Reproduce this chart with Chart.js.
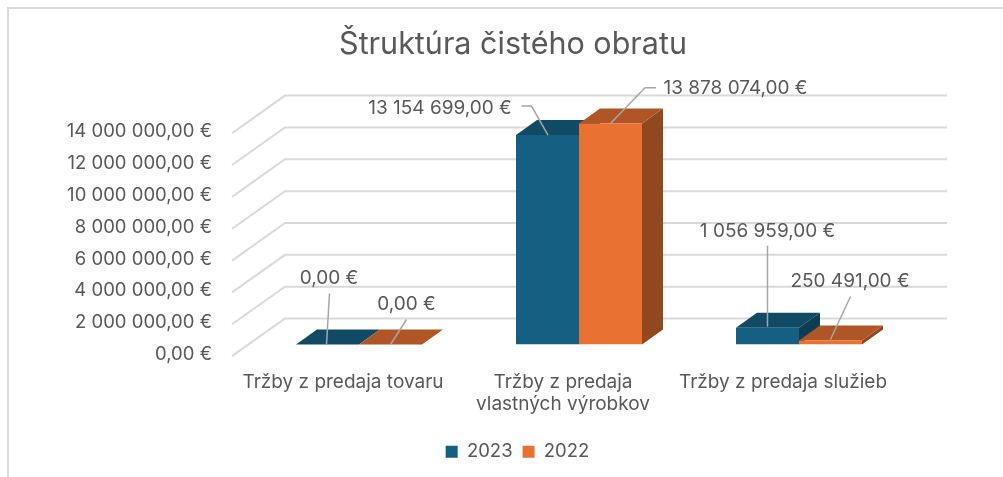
<!DOCTYPE html>
<html>
<head>
<meta charset="utf-8">
<title>Štruktúra čistého obratu</title>
<script src="https://cdn.jsdelivr.net/npm/chart.js@4"></script>
<style>
  html, body { margin: 0; padding: 0; background: #fff; overflow: hidden; }
  #frame { position: absolute; left: 7px; top: 7px; width: 996px; height: 470px;
           border-top: 2px solid #d9d9d9; border-left: 2px solid #d9d9d9; box-sizing: border-box; }
  #chart { position: absolute; left: 0; top: 0; }
</style>
</head>
<body>
<div id="frame"></div>
<canvas id="chart" width="1003" height="477"></canvas>
<script>
const titleText = 'Štruktúra čistého obratu';
const categories = ['Tržby z predaja tovaru', ['Tržby z predaja', 'vlastných výrobkov'], 'Tržby z predaja služieb'];
const seriesNames = ['2023', '2022'];
const values2023 = [0, 13154699, 1056959];
const values2022 = [0, 13878074, 250491];
const axisMax = 14000000;
const axisStep = 2000000;

const fontName = 'Inter, "Open Sans", sans-serif';
const textColor = '#595959';
const frontColors = ['#156082', '#E97132'];
const topColors = ['#104A64', '#B05626'];
const sideColors = ['#0B3E54', '#91481E'];

// 3d look: how far the bar faces and the back wall are pushed
const barDepth = { x: 21, y: -15 };
const wallFront = { x: 232, dy: 11.6 };
const wallBack = { x: 285, right: 947, dy: -26 };

// label spots, relative to the top middle of each bar front [series][category]
const labelSpots = [
  [
    { tx: 1.5, ty: -66.5, line: [[2, -51], [-1, 0]] },
    { tx: -107.5, ty: -26.5, line: [[-26, -29], [-16, -29], [0.5, 0]] },
    { tx: 0, ty: -96.7, line: [[0, -82], [0, -1]] }
  ],
  [
    { tx: 16, ty: -40.5, line: [[16, -25], [0, 0]] },
    { tx: 125, ty: -35, line: [[45.5, -35.7], [34.5, -35.7], [0, 0]] },
    { tx: 19.5, ty: -58.8, line: [[20, -44], [0, -1]] }
  ]
];

function euro(v) {
  const parts = v.toFixed(2).split('.');
  return parts[0].replace(/\B(?=(\d{3})+(?!\d))/g, ' ') + ',' + parts[1] + ' €';
}

function poly(ctx, pts, color) {
  ctx.fillStyle = color;
  ctx.beginPath();
  pts.forEach((p, i) => i ? ctx.lineTo(p[0], p[1]) : ctx.moveTo(p[0], p[1]));
  ctx.closePath();
  ctx.fill();
}

const bars3d = {
  id: 'bars3d',
  afterLayout(chart) {
    // title sits a bit left of the legend in the original
    chart.titleBlock.left -= 4.5;
    chart.titleBlock.right -= 4.5;
  },
  beforeDatasetsDraw(chart) {
    const ctx = chart.ctx;
    const y = chart.scales.y;
    ctx.save();
    ctx.strokeStyle = '#d9d9d9';
    ctx.lineWidth = 2;
    y.ticks.forEach(t => {
      const py = y.getPixelForValue(t.value);
      ctx.beginPath();
      ctx.moveTo(wallFront.x, py + wallFront.dy);
      ctx.lineTo(wallBack.x, py + wallBack.dy);
      ctx.lineTo(wallBack.right, py + wallBack.dy);
      ctx.stroke();
    });
    chart.data.datasets.forEach((ds, i) => {
      chart.getDatasetMeta(i).data.forEach(bar => {
        const l = bar.x - bar.width / 2, r = bar.x + bar.width / 2;
        const dx = barDepth.x, dy = barDepth.y;
        poly(ctx, [[r, bar.y], [r + dx, bar.y + dy], [r + dx, bar.base + dy], [r, bar.base]], sideColors[i]);
        poly(ctx, [[l, bar.y], [r, bar.y], [r + dx, bar.y + dy], [l + dx, bar.y + dy]], topColors[i]);
      });
    });
    ctx.restore();
  },
  afterDatasetsDraw(chart) {
    const ctx = chart.ctx;
    ctx.save();
    chart.data.datasets.forEach((ds, i) => {
      chart.getDatasetMeta(i).data.forEach((bar, j) => {
        const spot = labelSpots[i][j];
        ctx.strokeStyle = '#a6a6a6';
        ctx.lineWidth = 1.5;
        ctx.beginPath();
        spot.line.forEach((p, k) => {
          if (k) ctx.lineTo(bar.x + p[0], bar.y + p[1]);
          else ctx.moveTo(bar.x + p[0], bar.y + p[1]);
        });
        ctx.stroke();
        ctx.fillStyle = textColor;
        ctx.font = '19px ' + fontName;
        ctx.textAlign = 'center';
        ctx.textBaseline = 'middle';
        ctx.fillText(euro(ds.data[j]), bar.x + spot.tx, bar.y + spot.ty);
      });
    });
    ctx.restore();
  }
};

new Chart(document.getElementById('chart').getContext('2d'), {
  type: 'bar',
  data: {
    labels: categories,
    datasets: [
      { label: seriesNames[0], data: values2023, backgroundColor: frontColors[0] },
      { label: seriesNames[1], data: values2022, backgroundColor: frontColors[1] }
    ]
  },
  plugins: [bars3d],
  options: {
    responsive: false,
    animation: false,
    layout: { padding: { left: 32, right: 0, top: 0, bottom: 6 } },
    datasets: { bar: { categoryPercentage: 0.5727, barPercentage: 1 } },
    scales: {
      x: {
        grid: { display: false },
        border: { display: false },
        ticks: { color: textColor, font: { family: fontName, size: 19 }, padding: 18, labelOffset: -16, maxRotation: 0, autoSkip: false },
        afterFit(scale) { scale.height = 88; }
      },
      y: {
        min: 0,
        max: axisMax,
        grid: { display: false, drawTicks: false },
        border: { display: false },
        ticks: { stepSize: axisStep, color: textColor, font: { family: fontName, size: 18.5 }, padding: 37, labelOffset: 10, callback: v => euro(v) },
        afterFit(scale) { scale.width = 217; }
      },
      // empty axis, only keeps the room on the right of the bars
      spacer: {
        axis: 'y',
        position: 'right',
        grid: { display: false },
        border: { display: false },
        ticks: { display: false },
        afterFit(scale) { scale.width = 94; }
      }
    },
    plugins: {
      title: {
        display: true,
        text: titleText,
        color: textColor,
        font: { family: fontName, size: 30.5, weight: 'normal' },
        padding: { top: 27, bottom: 58 }
      },
      legend: {
        position: 'bottom',
        labels: { boxWidth: 12, boxHeight: 12, padding: 10, color: textColor, font: { family: fontName, size: 18.5 } }
      },
      tooltip: { enabled: false }
    }
  }
});
</script>
</body>
</html>
